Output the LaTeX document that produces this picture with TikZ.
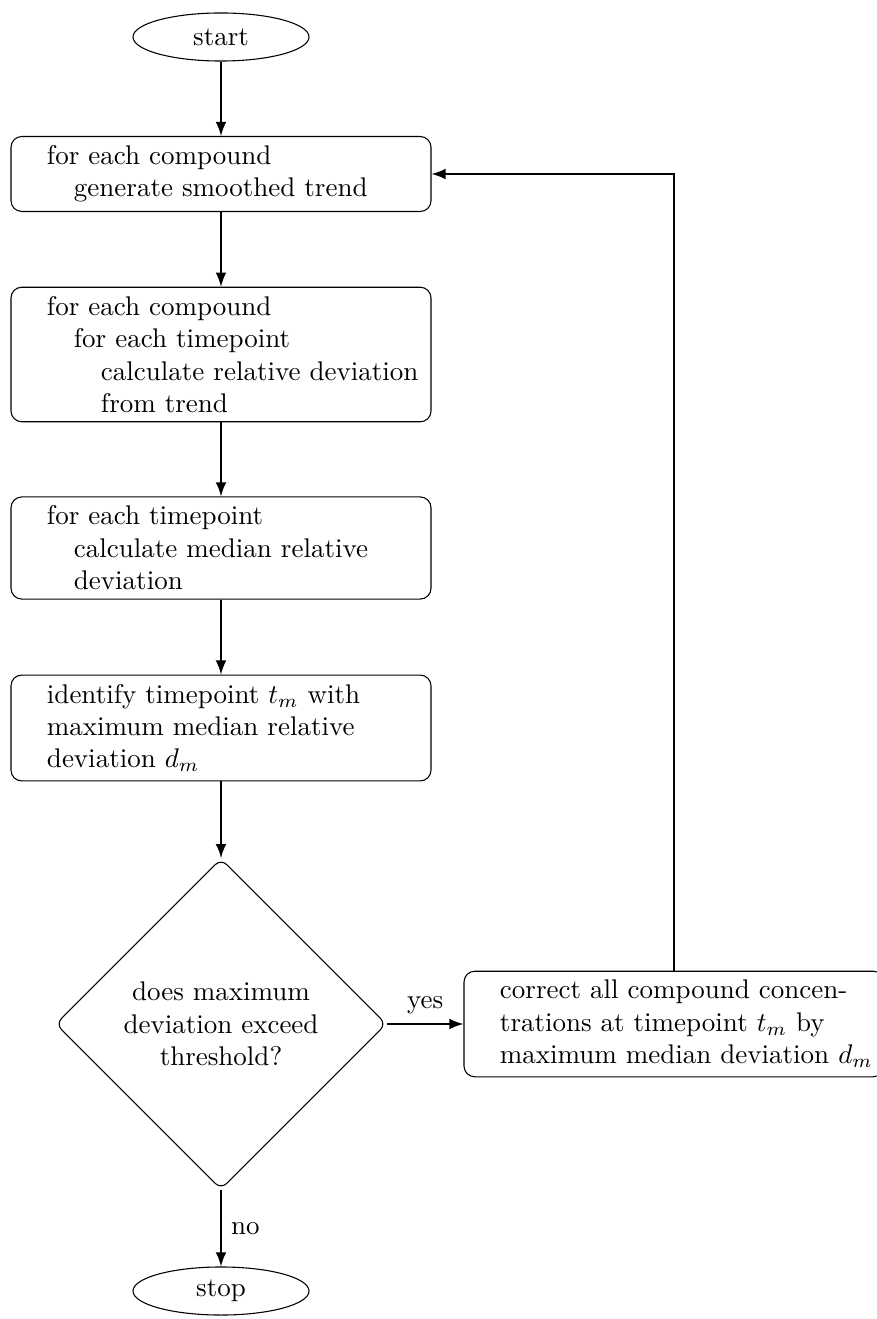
\documentclass[tikz,border=0pt]{standalone}
\usetikzlibrary{shapes.geometric,arrows}
\begin{document}
\begin{tikzpicture}[x=0.37037pt,y=-0.37037pt,
  procbox/.style={draw,rounded corners=4pt,text width=148.9pt,align=left,inner sep=3.333pt,line width=0.4pt},
  termnode/.style={draw,ellipse,minimum width=65.2pt,minimum height=17.8pt,inner sep=0pt},
  decide/.style={draw,diamond,aspect=1,minimum width=122.5pt,minimum height=122.5pt,text width=84pt,align=center,rounded corners=3pt,inner sep=0pt},
  flow/.style={thick,-latex}]
\useasboundingbox (0,0) rectangle (876,1319);
\node[termnode] (start) at (221,37) {start};
\node[procbox] (b1) at (221,174) {\hspace*{1em}for each compound\\\hspace*{2em}generate smoothed trend};
\node[procbox] (b2) at (221,354.5) {\hspace*{1em}for each compound\\\hspace*{2em}for each timepoint\\\hspace*{3em}calculate relative deviation\\\hspace*{3em}from trend};
\node[procbox] (b3) at (221,548) {\hspace*{1em}for each timepoint\\\hspace*{2em}calculate median relative\\\hspace*{2em}deviation};
\node[procbox] (b4) at (221,728) {\hspace*{1em}identify timepoint $t_m$ with\\\hspace*{1em}maximum median relative\\\hspace*{1em}deviation $d_m$};
\node[decide] (dec) at (221,1024) {does maximum\\deviation exceed\\threshold?};
\node[procbox] (fix) at (674,1024) {\hspace*{1em}correct all compound concen-\\\hspace*{1em}trations at timepoint $t_m$ by\\\hspace*{1em}maximum median deviation $d_m$};
\node[termnode] (stop) at (221,1291) {stop};
\draw[flow] (start) -- (b1);
\draw[flow] (b1) -- (b2);
\draw[flow] (b2) -- (b3);
\draw[flow] (b3) -- (b4);
\draw[flow] (b4) -- (dec);
\draw[flow] (dec.east) -- node[above] {yes} (fix.west);
\draw[flow] (dec.south) -- node[right] {no} (stop.north);
\draw[flow] (fix.north) |- (b1.east);
\end{tikzpicture}
\end{document}
